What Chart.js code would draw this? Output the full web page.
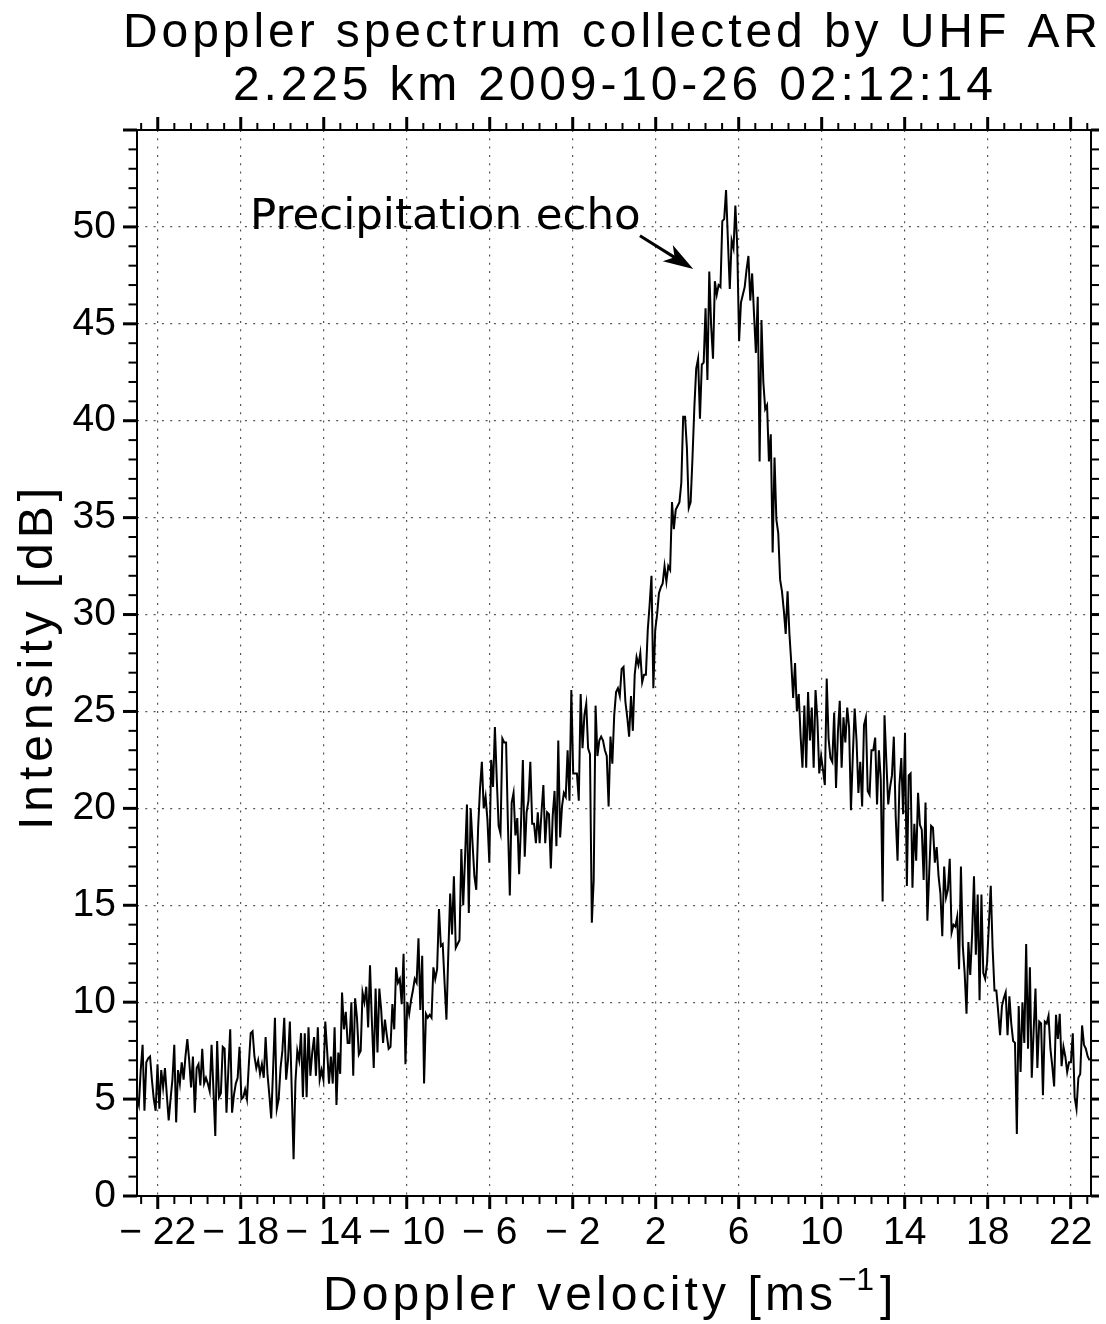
<!DOCTYPE html>
<html>
<head>
<meta charset="utf-8">
<script src="https://cdn.jsdelivr.net/npm/chart.js@4.4.1/dist/chart.umd.min.js"></script>
<style>html,body{margin:0;padding:0;background:#fff}canvas{display:block}</style>
</head>
<body>
<canvas id="chart" width="1106" height="1324"></canvas>
<script>
// ---------- texts ----------
const titleLines = ['Doppler spectrum collected by UHF AR', '2.225 km 2009-10-26 02:12:14'];
const xAxisTitle = 'Doppler velocity [ms';
const xAxisTitleSup = '\u22121';
const xAxisTitleEnd = ']';
const yAxisTitle = 'Intensity [dB]';
const annotationText = 'Precipitation echo';

// ---------- axes ----------
const xMajorTicks = [-22, -18, -14, -10, -6, -2, 2, 6, 10, 14, 18, 22];
const xTickLabels = ['\u2212 22', '\u2212 18', '\u2212 14', '\u2212 10', '\u2212 6', '\u2212 2', '2', '6', '10', '14', '18', '22'];
const yMajorTicks = [0, 5, 10, 15, 20, 25, 30, 35, 40, 45, 50];
const yTickLabels = ['0', '5', '10', '15', '20', '25', '30', '35', '40', '45', '50'];

// ---------- velocity bins (512 FFT bins) ----------
const velocityStart = -23.0;
const velocityStep = 46 / 512;

// ---------- intensity [dB] ----------
const intensityNoiseLeft = [
  5.1, 4.7, 6.5, 7.8, 4.4, 6.9, 7.1, 7.2, 6.0, 5.0, 4.4, 6.8, 4.5, 6.5, 5.6, 6.6, 5.2, 3.9, 5.0, 6.0,
  7.8, 3.8, 6.5, 5.8, 6.9, 6.0, 7.2, 8.1, 7.0, 5.6, 7.2, 4.3, 6.6, 6.8, 5.7, 7.6, 5.8, 6.1, 5.8, 5.4,
  7.8, 5.5,
  3.1, 8.0, 5.1, 5.3, 7.7, 7.6, 4.3, 6.5, 8.6, 4.3, 5.2, 5.8, 6.1, 7.7, 5.0, 5.1, 5.5, 5.0, 6.8, 8.4,
  8.5, 7.2, 6.6, 7.0, 6.3, 6.8, 6.1, 8.2, 6.3, 5.2, 4.0, 6.5, 9.2, 4.5, 5.0, 6.6, 7.5, 9.2, 6.0, 7.0,
  9.0, 5.5, 1.9,
  5.9, 7.5, 7.0
];
const intensityRiseLeft = [
  8.4, 5.1, 8.4, 5.1, 8.7, 6.2, 7.4, 8.2, 6.2, 8.7, 6.0, 6.5, 6.0, 9.0, 7.5, 5.8, 7.2, 5.8, 8.7, 4.7,
  7.4, 6.3, 10.5, 8.6, 9.5, 7.9, 7.9, 10.0, 6.2, 10.2, 9.2, 7.3, 7.5, 10.5, 10.0, 10.8, 8.7, 11.9, 9.0, 6.6,
  10.7, 7.4, 10.7, 9.6, 7.9, 9.1, 8.3, 7.6, 7.7, 9.9, 8.6, 11.8, 11.0, 11.2, 9.9, 12.5, 6.8, 10.0, 9.4, 10.1,
  10.6, 11.2, 11.0, 13.3, 9.6, 12.4, 5.8, 9.4, 9.2, 9.35, 9.2, 11.8, 11.2, 11.7, 14.8, 12.9, 13.0, 11.0, 9.1, 12.5
];
const intensityShoulderLeft = [
  15.6, 13.5, 16.5, 12.8, 13.0, 13.2, 17.9, 15.0, 17.5, 20.2, 14.6, 20.0, 18.2, 16.5, 15.8, 19.0, 21.0, 22.4, 20.0, 20.6,
  19.4, 17.2, 22.5, 21.1, 24.2, 21.5, 19.1, 18.7, 23.6, 23.4, 23.4, 19.1, 15.5, 20.3, 20.8, 18.6, 19.5, 16.6, 19.2, 22.5,
  17.5, 19.8, 20.4, 22.4, 19.2, 19.2, 18.2, 19.8, 18.2, 19.8, 21.2, 18.2, 19.8, 19.7, 16.9, 19.6, 20.9, 18.05, 23.5, 18.5,
  20.1, 20.8, 20.6, 23.0, 20.4, 26.1, 21.8, 21.8, 21.8, 20.4, 25.9, 23.1, 24.8, 25.4, 23.1, 22.8, 14.1, 16.3, 25.3, 22.7,
  23.5, 23.7, 23.5, 23.0, 22.7, 20.1, 23.7
];
const intensityPeak = [
  22.3, 24.8, 26.0, 26.2, 25.8, 27.2, 27.3, 25.5, 24.7, 23.7,
  25.8, 24.0, 26.9, 27.8, 27.4, 28.0, 26.5, 26.9, 26.9, 29.2,
  30.5, 32.0, 26.2, 29.2, 30.0, 31.1, 31.4, 31.6, 32.5, 31.7,
  32.5, 32.3, 35.8, 34.4, 35.4, 35.6, 35.8, 36.8, 40.2, 40.2,
  38.6, 35.5, 35.8, 38.1, 40.7, 42.7, 43.2, 40.1, 42.9, 43.0,
  45.8, 42.1, 47.7, 44.9, 43.2, 47.2, 46.5, 47.0, 46.9, 50.3,
  50.4, 51.9, 49.3, 46.8, 49.3, 48.9, 51.1, 49.0, 44.1, 46.1,
  46.5, 46.9, 47.8, 48.5, 46.2, 47.6, 45.5, 43.5, 46.4, 37.9,
  45.2, 42.0, 40.6, 40.8, 37.9, 39.3, 33.2, 38.1, 34.9, 34.2,
  31.8, 31.2, 30.2, 29.0, 31.2, 29.0, 27.5, 25.7, 27.5, 25.0,
  25.9
];
const intensityShoulderRight = [
  23.7, 22.1, 25.3, 22.1, 26.0, 23.5, 25.2, 22.1, 26.1, 24.6, 21.8, 22.7, 22.0, 21.2, 26.7, 23.6, 22.6, 22.4, 24.95, 21.05,
  23.9, 25.55, 22.1, 24.7, 23.4, 25.2, 24.2, 19.9, 22.7, 25.15, 23.5, 20.8, 22.4, 20.1, 24.3, 24.7, 20.9, 20.7, 23.0, 23.0,
  23.65, 20.2, 23.0, 21.5, 15.2, 24.8, 22.4, 20.2, 21.1, 21.7, 23.7, 19.6, 17.3, 21.2, 22.6, 19.7, 23.9, 16.0, 21.7, 21.8,
  15.9, 19.2, 17.3, 20.8, 19.15, 18.9, 16.3, 20.3, 14.2, 16.7, 19.1, 19.0, 17.2, 18.0, 16.5
];
const intensityTailRight = [
  15.6, 13.4, 17.0, 15.4, 15.8, 17.4, 13.6, 14.0, 13.9, 14.4,
  11.7, 17.0, 12.9, 11.5, 9.4, 13.1, 11.4, 13.5, 16.5, 12.45,
  15.55, 10.1, 15.55, 11.5, 11.2, 12.0, 14.0, 16.0, 12.8, 10.6,
  10.6, 9.5, 8.3, 9.8, 10.2, 10.5, 8.3, 10.3, 8.9, 8.0,
  7.9, 3.2, 9.8, 6.4, 10.0, 7.9, 13.0, 7.6, 11.8, 6.1,
  8.5, 10.7, 6.6, 9.0, 8.9, 5.2, 9.0, 8.9, 9.3, 7.6,
  6.7, 5.65, 9.35, 8.1, 9.4, 6.7, 7.7, 7.2, 6.4, 6.9,
  6.9, 8.4, 5.1, 4.5, 6.1, 6.3, 8.8, 7.8, 7.6, 7.2,
  7.0
];

const intensity = [].concat(intensityNoiseLeft, intensityRiseLeft, intensityShoulderLeft,
  intensityPeak, intensityShoulderRight, intensityTailRight);
const velocity = intensity.map((_, i) => velocityStart + i * velocityStep);
const points = intensity.map((v, i) => ({ x: velocity[i], y: v }));

// ---------- annotation anchor (data coordinates) ----------
const annotation = { textX: -17.55, textY: 49.9, fromX: 1.24, fromY: 49.54, toX: 3.81, toY: 47.83 };

// ---------- helpers ----------
const AXIS_FONT = "'Liberation Sans', Arial, sans-serif";
const ANNOT_FONT = "'DejaVu Sans', sans-serif";
const xAllTicks = [];
for (let k = -1; k <= 56; k++) xAllTicks.push(Math.round((-22 + 0.8 * k) * 10) / 10);
const yAllTicks = [];
for (let k = 0; k <= 55; k++) yAllTicks.push(k);
const isXMajor = v => v !== undefined && Math.abs((v + 22) / 4 - Math.round((v + 22) / 4)) < 1e-6;
const isYMajor = v => v !== undefined && yMajorTicks.includes(v);

function spacedText(ctx, text, left, baseline, font, width) {
  ctx.font = font;
  ctx.textAlign = 'left';
  ctx.textBaseline = 'alphabetic';
  const hasLS = 'letterSpacing' in ctx;
  if (hasLS) ctx.letterSpacing = '0px';
  const w0 = ctx.measureText(text).width;
  const sp = text.length > 1 ? (width - w0) / (text.length - 1) : 0;
  if (hasLS) {
    ctx.letterSpacing = sp + 'px';
    ctx.fillText(text, left, baseline);
    ctx.letterSpacing = '0px';
  } else {
    let x = left;
    for (const ch of text) { ctx.fillText(ch, x, baseline); x += ctx.measureText(ch).width + sp; }
  }
}

const decor = {
  id: 'decor',
  afterDraw(chart) {
    const ctx = chart.ctx, a = chart.chartArea, xs = chart.scales.x, ys = chart.scales.y;
    ctx.save();
    ctx.strokeStyle = '#000';
    ctx.fillStyle = '#000';
    ctx.lineCap = 'butt';
    const seg = (x1, y1, x2, y2, w) => { ctx.lineWidth = w; ctx.beginPath(); ctx.moveTo(x1, y1); ctx.lineTo(x2, y2); ctx.stroke(); };
    xs.ticks.forEach(t => {
      const p = xs.getPixelForValue(t.value);
      const major = isXMajor(t.value);
      seg(p, a.bottom, p, a.bottom + (major ? 13 : 8), major ? 3 : 2);
      seg(p, a.top, p, a.top - (major ? 13 : 7), major ? 3 : 2);
    });
    ys.ticks.forEach(t => {
      const p = ys.getPixelForValue(t.value);
      const major = t.value % 5 === 0;
      seg(a.left, p, a.left - (major ? 14 : 8.5), p, major ? 3 : 2);
      seg(a.right, p, a.right + 8, p, major ? 3 : 2);
    });
    ctx.lineWidth = 2;
    ctx.strokeRect(a.left, a.top, a.right - a.left, a.bottom - a.top);

    // title
    spacedText(ctx, titleLines[0], 123, 47, '48px ' + AXIS_FONT, 975);
    spacedText(ctx, titleLines[1], 233, 100, '48px ' + AXIS_FONT, 760);

    // x axis title
    spacedText(ctx, xAxisTitle, 323, 1310, '48px ' + AXIS_FONT, 510);
    spacedText(ctx, xAxisTitleSup, 838, 1290, '32px ' + AXIS_FONT, 36);
    spacedText(ctx, xAxisTitleEnd, 880, 1310, '48px ' + AXIS_FONT, 10);

    // y axis title
    ctx.save();
    ctx.translate(52, 830);
    ctx.rotate(-Math.PI / 2);
    spacedText(ctx, yAxisTitle, 0, 0, '48px ' + AXIS_FONT, 342);
    ctx.restore();

    // annotation
    ctx.font = '43.5px ' + ANNOT_FONT;
    ctx.textAlign = 'left';
    ctx.textBaseline = 'alphabetic';
    ctx.fillText(annotationText, xs.getPixelForValue(annotation.textX), ys.getPixelForValue(annotation.textY));
    const x1 = xs.getPixelForValue(annotation.fromX), y1 = ys.getPixelForValue(annotation.fromY);
    const x2 = xs.getPixelForValue(annotation.toX), y2 = ys.getPixelForValue(annotation.toY);
    const L = Math.hypot(x2 - x1, y2 - y1), ux = (x2 - x1) / L, uy = (y2 - y1) / L;
    const px = -uy, py = ux;
    const headLen = 30, halfW = 9.5, notch = 22;
    seg(x1, y1, x2 - ux * notch, y2 - uy * notch, 3);
    ctx.beginPath();
    ctx.moveTo(x2, y2);
    ctx.lineTo(x2 - ux * headLen + px * halfW, y2 - uy * headLen + py * halfW);
    ctx.lineTo(x2 - ux * notch, y2 - uy * notch);
    ctx.lineTo(x2 - ux * headLen - px * halfW, y2 - uy * headLen - py * halfW);
    ctx.closePath();
    ctx.fill();
    ctx.restore();
  }
};

new Chart(document.getElementById('chart'), {
  type: 'line',
  data: {
    datasets: [{
      data: points,
      borderColor: '#000',
      borderWidth: 2,
      pointRadius: 0,
      tension: 0,
      fill: false
    }]
  },
  options: {
    responsive: false,
    animation: false,
    devicePixelRatio: 1,
    layout: { padding: { left: 0, right: 15, top: 130, bottom: 0 } },
    plugins: { legend: { display: false }, tooltip: { enabled: false }, title: { display: false } },
    scales: {
      x: {
        type: 'linear', position: 'bottom', min: -23.0, max: 22.98,
        afterBuildTicks: s => { s.ticks = xAllTicks.map(v => ({ value: v })); },
        afterFit: s => { s.height = 128; },
        grid: {
          drawTicks: false, lineWidth: 1.2,
          color: c => isXMajor(c.tick && c.tick.value) ? '#555' : 'rgba(0,0,0,0)'
        },
        border: { display: false, dash: [2, 6.3] },
        ticks: {
          autoSkip: false, maxRotation: 0, minRotation: 0, padding: 14, color: '#000',
          font: { family: AXIS_FONT, size: 39, lineHeight: 1.2 },
          callback: v => isXMajor(v) ? xTickLabels[xMajorTicks.indexOf(Math.round(v))] : ''
        }
      },
      y: {
        type: 'linear', position: 'left', min: 0, max: 55,
        afterBuildTicks: s => { s.ticks = yAllTicks.map(v => ({ value: v })); },
        afterFit: s => { s.width = 137; },
        grid: {
          drawTicks: false, lineWidth: 1.2,
          color: c => { const v = c.tick && c.tick.value; return (v > 0 && v < 55 && isYMajor(v)) ? '#555' : 'rgba(0,0,0,0)'; }
        },
        border: { display: false, dash: [2, 6.3] },
        ticks: {
          autoSkip: false, padding: 21, color: '#000',
          font: { family: AXIS_FONT, size: 39, lineHeight: 1.2 },
          callback: v => isYMajor(v) ? yTickLabels[yMajorTicks.indexOf(v)] : ''
        }
      }
    }
  },
  plugins: [decor]
});
</script>
</body>
</html>
